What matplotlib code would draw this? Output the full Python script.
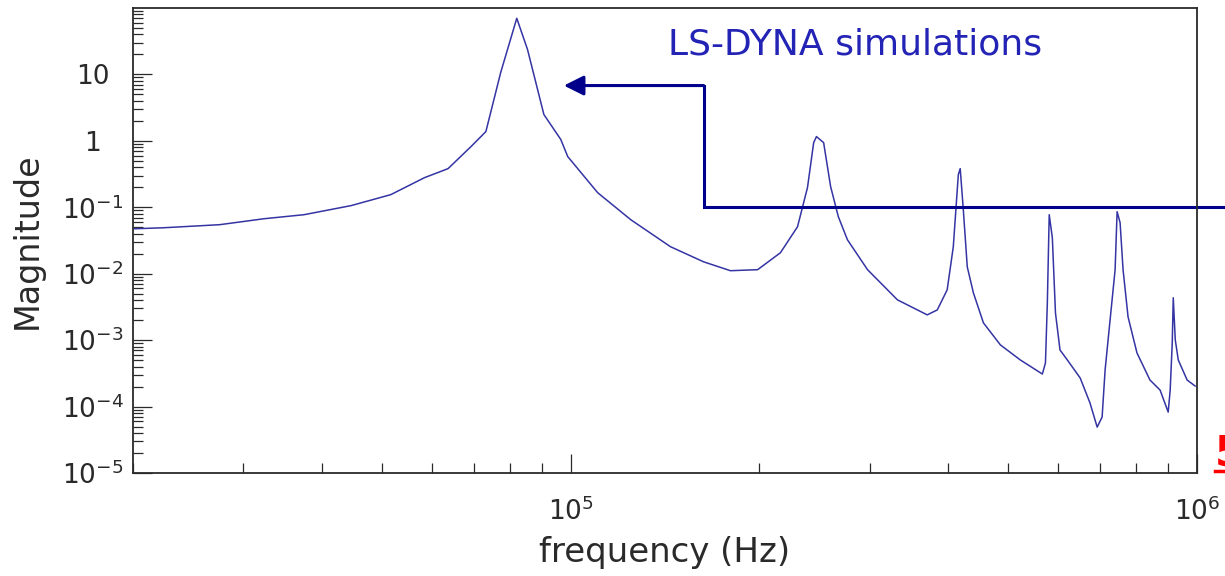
import numpy as np
import matplotlib
matplotlib.use("Agg")
from matplotlib import pyplot as plt
from matplotlib.lines import Line2D
from matplotlib.ticker import FixedLocator, FuncFormatter, NullFormatter

# frequency response
freq_hz = [20100, 22400, 27500, 32400, 37500, 44600, 51600, 58400, 63700, 69300,
           73200, 77300, 82000, 85300, 90600, 96400, 98900, 110400, 124700, 144300,
           163000, 179900, 198800, 216200, 230200, 238800, 244300, 246800, 253400, 260000,
           267500, 276600, 297800, 332400, 370900, 384800, 399100, 408200, 415800, 418700,
           423500, 429700, 439500, 456000, 485400, 522300, 566300, 572800, 576800, 580800,
           587500, 594300, 604300, 620800, 650900, 674800, 692800, 705500, 713300, 726500,
           740000, 745500, 753700, 762000, 776100, 802000, 841200, 873100, 899500, 906100,
           913000, 916400, 923200, 933500, 964300, 993000]
magnitude = [0.0475, 0.0492, 0.0547, 0.0673, 0.0773, 0.106, 0.155, 0.279, 0.382, 0.82,
             1.38, 10.7, 70, 23.8, 2.49, 1.05, 0.58, 0.166, 0.065, 0.0255,
             0.0151, 0.0111, 0.0115, 0.0207, 0.0509, 0.198, 0.94, 1.16, 0.94, 0.205,
             0.072, 0.0324, 0.0115, 0.00404, 0.0024, 0.00285, 0.00571, 0.0255, 0.31, 0.382,
             0.092, 0.0127, 0.00515, 0.00182, 0.000847, 0.000503, 0.000309, 0.000453, 0.00364, 0.0773,
             0.0348, 0.00257, 0.000711, 0.000503, 0.000269, 0.000113, 4.91e-5, 6.95e-5, 0.000356, 0.00202,
             0.01146, 0.0859, 0.0586, 0.01146, 0.00224, 0.000641, 0.000251, 0.000177, 8.26e-5, 0.000177,
             0.000908, 0.00434, 0.00101, 0.000503, 0.000251, 0.000204]

x_major = [1e5, 1e6]
y_major = [1e-5, 1e-4, 1e-3, 1e-2, 1e-1, 1, 10]

# arrow from the right edge to the first peak
arrow_x = [1.2e6, 1.63e5, 1.63e5]
arrow_y = [0.1, 0.1, 6.8]
arrow_tip = (9.75e4, 6.8)

ink = '#2a2a2a'
fig = plt.figure(figsize=(12.25, 5.76), dpi=100)
ax = fig.add_axes([133/1225, 1 - 473/576, (1197 - 133)/1225, (473 - 8)/576])

ax.plot(freq_hz, magnitude, color='#3434a4', lw=1.1)
ax.set_xscale('log')
ax.set_yscale('log')
ax.set_xlim(2e4, 1e6)
ax.set_ylim(1e-5, 1e2)

def ylab(v, pos):
    e = int(round(np.log10(v)))
    if e == 1:
        return '10'
    if e == 0:
        return '1'
    return r'$\mathregular{10^{%d}}$' % e

def xlab(v, pos):
    return r'$\mathregular{10^{%d}}$' % int(round(np.log10(v)))

ax.xaxis.set_major_locator(FixedLocator(x_major))
ax.yaxis.set_major_locator(FixedLocator(y_major))
xminor = [k * 10**d for d in (4, 5) for k in range(2, 10)]
yminor = [k * 10.0**d for d in range(-5, 2) for k in range(2, 10)]
ax.xaxis.set_minor_locator(FixedLocator(xminor))
ax.yaxis.set_minor_locator(FixedLocator(yminor))
ax.xaxis.set_major_formatter(FuncFormatter(xlab))
ax.yaxis.set_major_formatter(FuncFormatter(ylab))
ax.xaxis.set_minor_formatter(NullFormatter())
ax.yaxis.set_minor_formatter(NullFormatter())

ax.tick_params(which='both', direction='in', color=ink, width=0.9, labelcolor=ink, labelsize=19)
ax.tick_params(which='major', length=14)
ax.tick_params(which='minor', length=7)
ax.tick_params(axis='x', which='major', pad=18)
ax.tick_params(axis='y', which='major', pad=29)
for t in ax.get_yticklabels():
    t.set_horizontalalignment('center')
for s in ax.spines.values():
    s.set_color(ink)
    s.set_linewidth(1.3)

ax.set_xlabel('frequency (Hz)', fontsize=24.5, color=ink, labelpad=7)
ax.set_ylabel('Magnitude', fontsize=24, color=ink, labelpad=13)

ax.text(0.503, 0.922, 'LS-DYNA simulations', transform=ax.transAxes, fontsize=26,
        color='#2323b5', ha='left', va='center')

ax.plot(arrow_x, arrow_y, color='#00008b', lw=2.2, clip_on=False, solid_joinstyle='miter')
ax.annotate('', xy=arrow_tip, xytext=(arrow_x[-1], arrow_y[-1]),
            arrowprops=dict(arrowstyle='-|>,head_length=12,head_width=6', mutation_scale=1,
                            color='#00008b', lw=2.2, shrinkA=0, shrinkB=0))

# cut-off red note at the right edge
fig.text(1215/1225, 1 - 466/576, '5', color='red', fontsize=30, fontweight='bold',
         ha='left', va='baseline')
fig.add_artist(Line2D([1215/1225, 1.0], [1 - 471/576, 1 - 471/576], color='red', lw=2.5))

fig.savefig('out.png', dpi=100)
